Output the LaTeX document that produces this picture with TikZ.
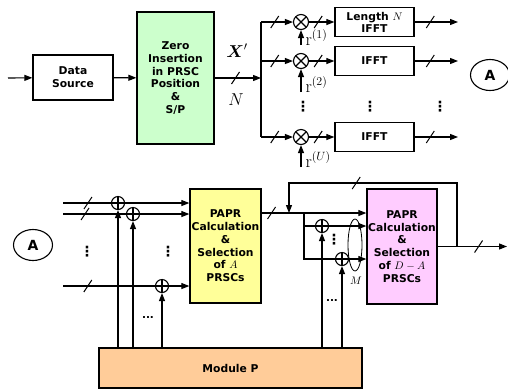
\documentclass[tikz,border=0pt]{standalone}
\usepackage{amsmath}
\usepackage{fontspec}
\newfontfamily\boxfont{DejaVu Sans}
\usepackage{xcolor}
\usepackage{tikz}
\usetikzlibrary{arrows.meta,positioning,shapes.geometric,calc}

\definecolor{zerogreen}{RGB}{204,255,204}
\definecolor{papryellow}{RGB}{255,255,153}
\definecolor{paprpink}{RGB}{255,204,255}
\definecolor{modpeach}{RGB}{255,204,153}

\tikzset{pics/busmark/.style={code={\draw[-, line width=1bp] (-4,6) -- (4,-6);}}}

\begin{document}
\begin{tikzpicture}[
x=1bp, y=-1bp, line width=1.1bp,
box/.style={draw, line width=1.3bp, align=center, inner sep=0pt, font=\boxfont\bfseries\fontsize{10.8}{12.8}\selectfont},
mult/.style={draw, circle, inner sep=0pt, minimum size=15bp, path picture={\draw (path picture bounding box.south west) -- (path picture bounding box.north east) (path picture bounding box.north west) -- (path picture bounding box.south east);}},
add/.style={draw, circle, inner sep=0pt, minimum size=13bp, path picture={\draw (path picture bounding box.north) -- (path picture bounding box.south) (path picture bounding box.west) -- (path picture bounding box.east);}},
tag/.style={draw, ellipse, inner sep=0pt, minimum width=39bp, minimum height=31bp, font=\boxfont\bfseries\fontsize{14}{16}\selectfont},
vdots/.style={inner sep=0pt, font=\boxfont\bfseries\fontsize{14}{16}\selectfont},
hdots/.style={inner sep=0pt, font=\boxfont\bfseries\fontsize{10.5}{12}\selectfont},
arrow/.style={-{Triangle[length=8bp,width=6bp]}}
]
\useasboundingbox (0,0) rectangle (508,390);

\coordinate (in) at (8,78);
\node[box, minimum width=80bp, minimum height=45bp] (source) at (73,77.5) {Data\\Source};
\node[box, fill=zerogreen, minimum width=77bp, minimum height=132bp] (zero) at (175.5,78) {Zero\\Insertion\\in PRSC\\Position\\\&\\S/P};
\coordinate (split) at (261,78);
\draw[arrow] (in) -- (source);
\draw[arrow] (source) -- (zero);
\draw[arrow] (zero) -- pic[pos=0.45]{busmark} (split);
\node[font=\fontsize{17}{19}\selectfont] (xlab) at (237,51) {$\boldsymbol{X}'$};
\node[font=\fontsize{19}{21}\selectfont] (nlab) at (236,100) {$N$};

\foreach \row/\y/\sup/\rlen/\txt in {1/22/1/23/{Length $N$\\IFFT}, 2/61/2/31/IFFT, 3/137/U/30/IFFT} {
  \coordinate (b\row) at (261,\y);
  \node[mult] (m\row) at (301,\y) {};
  \node[box, minimum width=79bp, minimum height=29bp, font=\boxfont\bfseries\fontsize{10.8}{12}\selectfont] (ifft\row) at (374.5,\y) {\txt};
  \coordinate (o\row) at (458,\y);
  \coordinate (r\row) at (301,\y+\rlen);
  \draw[arrow] (b\row) -- pic[pos=0.43]{busmark} (m\row);
  \draw[arrow] (m\row) -- pic[pos=0.36]{busmark} (ifft\row);
  \draw[arrow] (ifft\row) -- pic[pos=0.36]{busmark} (o\row);
  \draw[arrow] (r\row) -- (m\row);
  \node[anchor=base west, xshift=4bp, inner sep=0pt, font=\fontsize{18}{20}\selectfont] (rlab\row) at (r\row) {$\mathrm{r}^{(\sup)}$};
}
\draw (b1) -- (b3);
\node[vdots] (dm) at (303,107) {⋮};
\node[vdots] (di) at (370,107) {⋮};
\node[vdots] (do) at (440,107) {⋮};
\node[tag] (taga) at (490,75) {A};

\node[tag] (tagb) at (33,245) {A};
\node[box, fill=papryellow, minimum width=71bp, minimum height=114bp] (sela) at (225.5,246) {PAPR\\Calculation\\\&\\Selection\\of $A$\\PRSCs};
\node[box, fill=modpeach, minimum width=263bp, minimum height=40bp] (modp) at (230.5,368) {Module P};
\coordinate (sa) at (63,203);
\coordinate (sb) at (63,214);
\coordinate (sc) at (63,286);
\node[add] (pa) at (118,203) {};
\node[add] (pb) at (133,214) {};
\node[add] (pc) at (162,286) {};
\draw (sa) -- pic[pos=0.52]{busmark} (pa);
\draw (sb) -- pic[pos=0.35]{busmark} (pb);
\draw (sc) -- pic[pos=0.27]{busmark} (pc);
\foreach \p in {pa,pb,pc} {
  \draw[arrow] (\p) -- (sela.west |- \p);
  \draw[arrow] (modp.north -| \p) -- (\p);
}
\node[vdots] (dl) at (87,252) {⋮};
\node[vdots] (dr) at (168,252) {⋮};
\node[hdots] (dp) at (148,317) {...};

\node[box, fill=paprpink, minimum width=70bp, minimum height=115bp] (seld) at (402,246.5) {PAPR\\Calculation\\\&\\Selection\\of $D-A$\\PRSCs};
\coordinate (yout) at (261,213);
\coordinate (fb) at (289,213);
\coordinate (br) at (304,213);
\coordinate (fbtop) at (289,183);
\coordinate (tap) at (457,246.5);
\coordinate (out) at (507,246.5);
\node[add] (pd) at (322,226) {};
\node[add] (pe) at (342,259) {};
\draw[arrow] (yout) -- pic[pos=0.1]{busmark} (seld.west |- yout);
\draw (br) |- (pd);
\draw (br) |- (pe);
\foreach \p in {pd,pe} {
  \draw[arrow] (\p) -- (seld.west |- \p);
  \draw[arrow] (modp.north -| \p) -- (\p);
}
\draw[arrow] (seld) -- pic[pos=0.59]{busmark} (out);
\draw[arrow] (tap) |- pic[pos=0.8]{busmark} (fbtop) -- (fb);
\node[draw, ellipse, line width=0.8bp, inner sep=0pt, minimum width=14bp, minimum height=52bp] (grp) at (355,245) {};
\node[font=\fontsize{11}{13}\selectfont] (mlab) at (356,281) {$M$};
\node[vdots] (dd) at (334,240) {⋮};
\node[hdots] (de) at (332,301) {...};
\end{tikzpicture}
\end{document}
